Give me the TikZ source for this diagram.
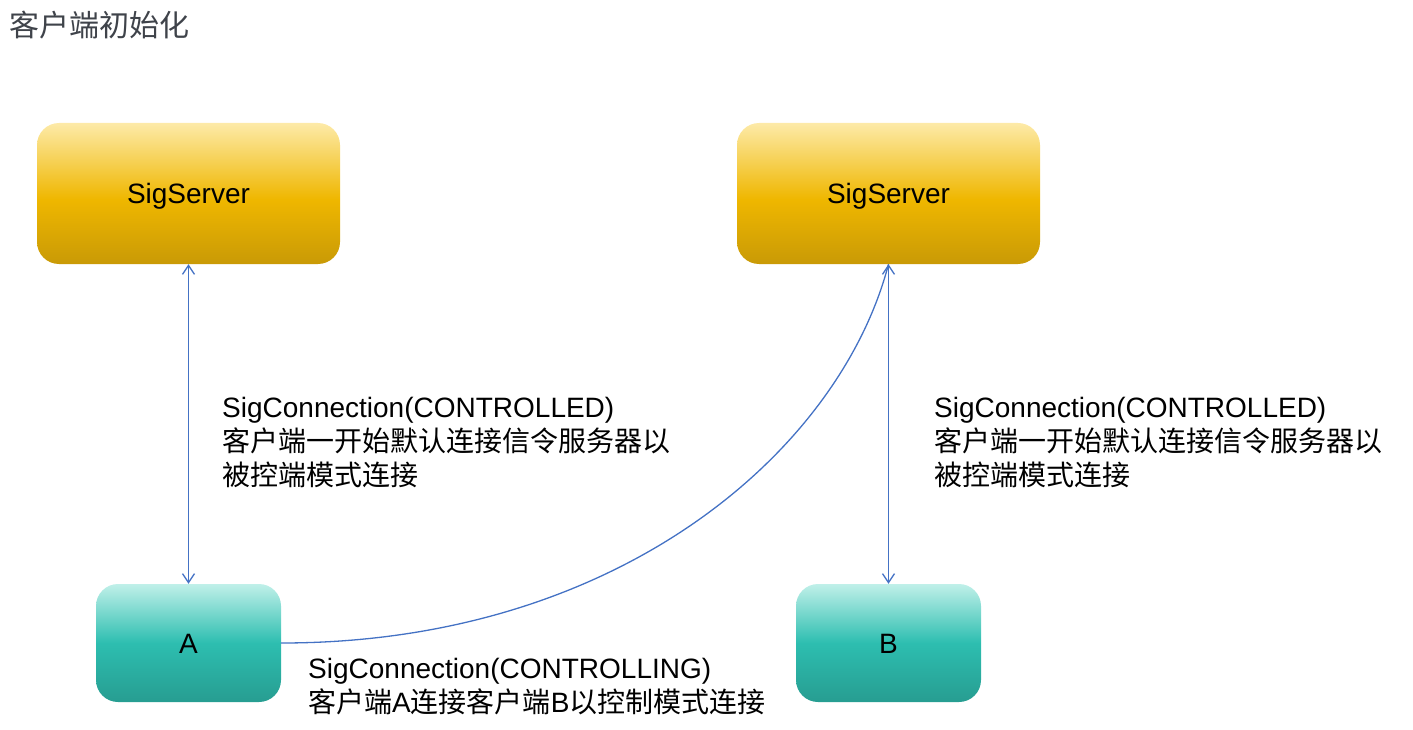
\documentclass[tikz,border=0pt]{standalone}
\usepackage{fontspec}
\setmainfont{Liberation Sans}
\newfontfamily\cjk{Noto Sans CJK SC}
\usetikzlibrary{arrows.meta}
\definecolor{goldlight}{HTML}{FDEAA8}
\definecolor{goldmid}{HTML}{EFB700}
\definecolor{golddark}{HTML}{C99A06}
\definecolor{teallight}{HTML}{C0F0E9}
\definecolor{tealmid}{HTML}{2DBEB0}
\definecolor{tealdark}{HTML}{279D91}
\definecolor{linkblue}{HTML}{4472C4}
\definecolor{titlegray}{HTML}{3F434A}
\pgfdeclareverticalshading{goldshade}{100bp}{color(0bp)=(golddark); color(25bp)=(golddark); color(48bp)=(goldmid); color(75bp)=(goldlight); color(100bp)=(goldlight)}
\pgfdeclareverticalshading{tealshade}{100bp}{color(0bp)=(tealdark); color(25bp)=(tealdark); color(50bp)=(tealmid); color(75bp)=(teallight); color(100bp)=(teallight)}
\tikzset{
  serverbox/.style={rounded corners=22pt, shading=goldshade, minimum width=303pt, minimum height=141pt,
    inner sep=0pt, text height=20pt, text depth=0pt, font=\fontsize{28}{34}\selectfont},
  clientbox/.style={rounded corners=22pt, shading=tealshade, minimum width=185pt, minimum height=118pt,
    inner sep=0pt, text height=20pt, text depth=0pt, font=\fontsize{28}{34}\selectfont},
  label/.style={anchor=base west, inner sep=0pt, align=left, font=\fontsize{28}{34}\selectfont},
  link/.style={draw=linkblue, line width=1.3pt},
  tip/.style={{Straight Barb[length=9pt,width=12pt,line width=1.3pt]}-{Straight Barb[length=9pt,width=12pt,line width=1.3pt]}}
}
\begin{document}
\begin{tikzpicture}[x=1pt,y=-1pt]
\useasboundingbox (0,0) rectangle (1413,730);
\node[anchor=base west, inner sep=0pt, text=titlegray, font=\fontsize{30}{36}\selectfont\cjk] (title) at (9,37) {客户端初始化};
\node[serverbox] (s1) at (188.5,193.5) {SigServer};
\node[serverbox] (s2) at (888.5,193.5) {SigServer};
\node[clientbox] (a) at (188.5,643) {A};
\node[clientbox] (b) at (888.5,643) {B};
\draw[link, tip] (s1.south) -- (a.north);
\draw[link, tip] (s2.south) -- (b.north);
\draw[link] (a.east) .. controls (620,643) and (840,450) .. (s2.south);
\node[label] (l1) at (222,485) {SigConnection(CONTROLLED)\\{\cjk 客户端一开始默认连接信令服务器以}\\{\cjk 被控端模式连接}};
\node[label] (l2) at (934,485) {SigConnection(CONTROLLED)\\{\cjk 客户端一开始默认连接信令服务器以}\\{\cjk 被控端模式连接}};
\node[label] (l3) at (308,712) {SigConnection(CONTROLLING)\\{\cjk 客户端}A{\cjk 连接客户端}B{\cjk 以控制模式连接}};
\end{tikzpicture}
\end{document}
